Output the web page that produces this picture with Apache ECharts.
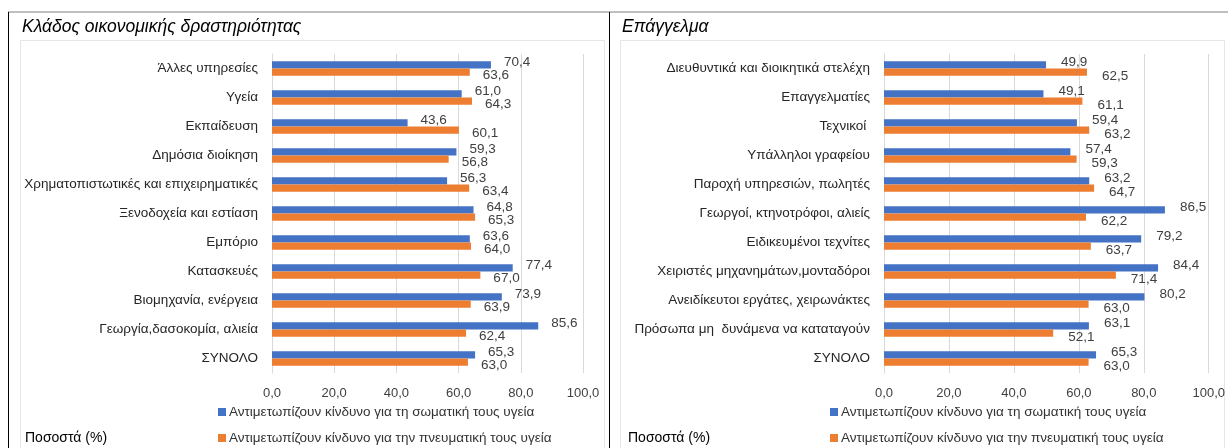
<!DOCTYPE html>
<html>
<head>
<meta charset="utf-8">
<script src="https://cdn.jsdelivr.net/npm/echarts@6/dist/echarts.min.js"></script>
<style>
  html, body { margin: 0; padding: 0; background: #fff; }
  #chart { width: 1228px; height: 448px; }
</style>
</head>
<body>
<div id="chart"></div>
<script>
// --- data ---
const sectorCats = [
  'Άλλες υπηρεσίες', 'Υγεία', 'Εκπαίδευση', 'Δημόσια διοίκηση',
  'Χρηματοπιστωτικές και επιχειρηματικές', 'Ξενοδοχεία και εστίαση', 'Εμπόριο',
  'Κατασκευές', 'Βιομηχανία, ενέργεια', 'Γεωργία,δασοκομία, αλιεία', 'ΣΥΝΟΛΟ'
]
const sectorPhysical = [70.4, 61.0, 43.6, 59.3, 56.3, 64.8, 63.6, 77.4, 73.9, 85.6, 65.3]
const sectorMental = [63.6, 64.3, 60.1, 56.8, 63.4, 65.3, 64.0, 67.0, 63.9, 62.4, 63.0]

const jobCats = [
  'Διευθυντικά και διοικητικά στελέχη', 'Επαγγελματίες', 'Τεχνικοί ',
  'Υπάλληλοι γραφείου', 'Παροχή υπηρεσιών, πωλητές', 'Γεωργοί, κτηνοτρόφοι, αλιείς',
  'Ειδικευμένοι τεχνίτες', 'Χειριστές μηχανημάτων,μονταδόροι',
  'Ανειδίκευτοι εργάτες, χειρωνάκτες', 'Πρόσωπα μη  δυνάμενα να καταταγούν', 'ΣΥΝΟΛΟ'
]
const jobPhysical = [49.9, 49.1, 59.4, 57.4, 63.2, 86.5, 79.2, 84.4, 80.2, 63.1, 65.3]
const jobMental = [62.5, 61.1, 63.2, 59.3, 64.7, 62.2, 63.7, 71.4, 63.0, 52.1, 63.0]

const xTicks = [0, 20, 40, 60, 80, 100]

const nameBlue = 'Αντιμετωπίζουν κίνδυνο για τη σωματική τους υγεία'
const nameOrange = 'Αντιμετωπίζουν κίνδυνο για την πνευματική τους υγεία'
const BLUE = '#4472C4'
const ORANGE = '#ED7D31'
const FONT = 'Liberation Sans'

const fmt = v => v.toFixed(1).replace('.', ',')

function xAxis(gridIndex) {
  return {
    type: 'value', gridIndex,
    min: xTicks[0], max: xTicks[xTicks.length - 1], interval: 20,
    axisLine: { show: false }, axisTick: { show: false },
    splitLine: { lineStyle: { color: '#d9d9d9' } },
    axisLabel: { formatter: fmt, color: '#404040', fontSize: 13, fontFamily: FONT, margin: 14 }
  }
}
function yAxis(gridIndex, cats) {
  return {
    type: 'category', gridIndex, data: cats, inverse: true,
    axisLine: { lineStyle: { color: '#d9d9d9' } }, axisTick: { show: false },
    axisLabel: { color: '#262626', fontSize: 13.5, fontFamily: FONT, margin: 14 }
  }
}
function bar(name, idx, data, color, offset) {
  return {
    type: 'bar', name, xAxisIndex: idx, yAxisIndex: idx, data,
    barGap: '0%', barCategoryGap: '50%',
    itemStyle: { color },
    label: {
      show: true, position: 'right', offset,
      formatter: p => fmt(p.value),
      color: '#404040', fontSize: 13.5, fontFamily: FONT
    }
  }
}
// one legend per entry so the two entries stack
function legend(left, top, name) {
  return {
    left, top, itemWidth: 8, itemHeight: 8, icon: 'rect', selectedMode: false,
    data: [name], padding: 0,
    textStyle: { color: '#333', fontSize: 13.5, fontFamily: FONT, padding: [0, 0, 0, -2] }
  }
}
function text(x, y, t, size, italic) {
  return {
    type: 'text', left: x, top: y,
    style: { text: t, fontSize: size, fontFamily: FONT, fontStyle: italic ? 'italic' : 'normal', fill: '#000' }
  }
}
function line(x1, y1, x2, y2, color, w) {
  return { type: 'line', shape: { x1, y1, x2, y2 }, style: { stroke: color, lineWidth: w || 1 }, silent: true }
}

const chart = echarts.init(document.getElementById('chart'))
chart.setOption({
  animation: false,
  grid: [
    { left: 272, right: 1228 - 583, top: 54, bottom: 448 - 373 },
    { left: 884, right: 1228 - 1209, top: 54, bottom: 448 - 373 }
  ],
  xAxis: [xAxis(0), xAxis(1)],
  yAxis: [yAxis(0, sectorCats), yAxis(1, jobCats)],
  legend: [
    legend(218, 405, nameBlue), legend(218, 431, nameOrange),
    legend(830, 405, nameBlue), legend(830, 431, nameOrange)
  ],
  series: [
    bar(nameBlue, 0, sectorPhysical, BLUE, [8, -3]),
    bar(nameOrange, 0, sectorMental, ORANGE, [8, 3]),
    bar(nameBlue, 1, jobPhysical, BLUE, [10, -3]),
    bar(nameOrange, 1, jobMental, ORANGE, [10, 4])
  ],
  graphic: [
    line(8, 12, 1228, 12, '#808080', 1),
    line(8.5, 12, 8.5, 448, '#000', 1),
    line(609.5, 12, 609.5, 448, '#000', 1),
    { type: 'rect', shape: { x: 20.5, y: 40.5, width: 584, height: 420 }, style: { fill: 'none', stroke: '#e6e6e6' }, silent: true },
    { type: 'rect', shape: { x: 620.5, y: 40.5, width: 604, height: 420 }, style: { fill: 'none', stroke: '#e6e6e6' }, silent: true },
    text(22, 18, 'Κλάδος οικονομικής δραστηριότητας', 17.5, true),
    text(622, 18, 'Επάγγελμα', 17.5, true),
    text(25, 431, 'Ποσοστά (%)', 14, false),
    text(628, 431, 'Ποσοστά (%)', 14, false)
  ]
})
</script>
</body>
</html>
